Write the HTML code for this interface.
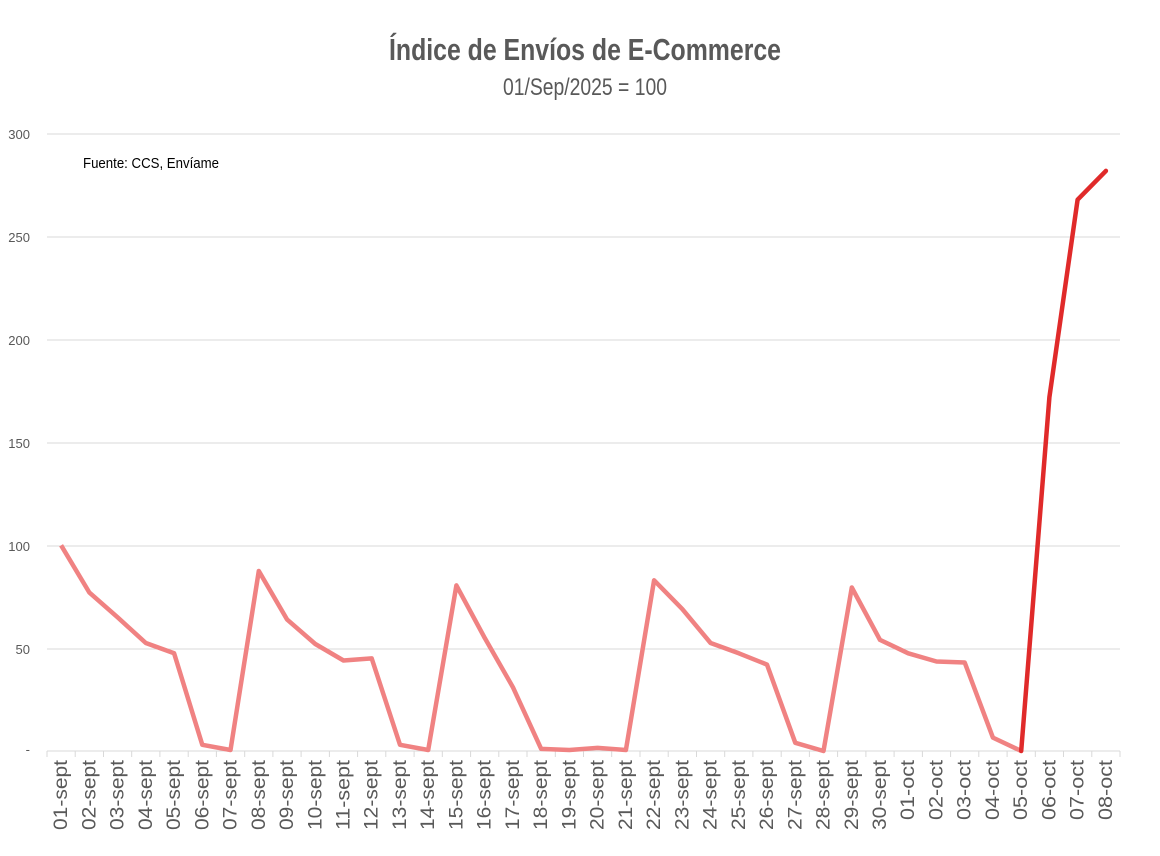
<!DOCTYPE html>
<html><head><meta charset="utf-8"><style>html,body{margin:0;padding:0;background:#fff}</style></head>
<body>
<svg width="1160" height="851" xmlns="http://www.w3.org/2000/svg" font-family="Liberation Sans, sans-serif">
<rect width="1160" height="851" fill="#fff"/>
<text x="585" y="60" text-anchor="middle" font-size="31" font-weight="bold" fill="#595959" textLength="392" lengthAdjust="spacingAndGlyphs">Índice de Envíos de E-Commerce</text>
<text x="585" y="95" text-anchor="middle" font-size="24" fill="#595959" textLength="164" lengthAdjust="spacingAndGlyphs">01/Sep/2025 = 100</text>
<g stroke="#d9d9d9" stroke-width="1">
<line x1="47" y1="134" x2="1120" y2="134"/><line x1="47" y1="237" x2="1120" y2="237"/><line x1="47" y1="340" x2="1120" y2="340"/><line x1="47" y1="443" x2="1120" y2="443"/><line x1="47" y1="546" x2="1120" y2="546"/><line x1="47" y1="649" x2="1120" y2="649"/>
<line x1="47" y1="751" x2="1120" y2="751"/>
<path d="M47 751v6M75.2 751v6M103.5 751v6M131.7 751v6M159.9 751v6M188.2 751v6M216.4 751v6M244.7 751v6M272.9 751v6M301.1 751v6M329.4 751v6M357.6 751v6M385.8 751v6M414.1 751v6M442.3 751v6M470.6 751v6M498.8 751v6M527 751v6M555.3 751v6M583.5 751v6M611.7 751v6M640 751v6M668.2 751v6M696.5 751v6M724.7 751v6M752.9 751v6M781.2 751v6M809.4 751v6M837.6 751v6M865.9 751v6M894.1 751v6M922.4 751v6M950.6 751v6M978.8 751v6M1007.1 751v6M1035.3 751v6M1063.5 751v6M1091.8 751v6M1120 751v6"/>
</g>
<g font-size="13" fill="#595959" text-anchor="end">
<text x="30" y="139">300</text><text x="30" y="242">250</text><text x="30" y="345">200</text><text x="30" y="448">150</text><text x="30" y="551">100</text><text x="30" y="654">50</text><text x="30" y="754">-</text>
</g>
<text x="83" y="168" font-size="15" fill="#000" textLength="136" lengthAdjust="spacingAndGlyphs">Fuente: CCS, Envíame</text>
<g font-size="19" fill="#595959" text-anchor="end">
<text transform="translate(67.1,760) rotate(-90)" textLength="70" lengthAdjust="spacingAndGlyphs">01-sept</text>
<text transform="translate(95.4,760) rotate(-90)" textLength="70" lengthAdjust="spacingAndGlyphs">02-sept</text>
<text transform="translate(123.6,760) rotate(-90)" textLength="70" lengthAdjust="spacingAndGlyphs">03-sept</text>
<text transform="translate(151.8,760) rotate(-90)" textLength="70" lengthAdjust="spacingAndGlyphs">04-sept</text>
<text transform="translate(180.1,760) rotate(-90)" textLength="70" lengthAdjust="spacingAndGlyphs">05-sept</text>
<text transform="translate(208.3,760) rotate(-90)" textLength="70" lengthAdjust="spacingAndGlyphs">06-sept</text>
<text transform="translate(236.5,760) rotate(-90)" textLength="70" lengthAdjust="spacingAndGlyphs">07-sept</text>
<text transform="translate(264.8,760) rotate(-90)" textLength="70" lengthAdjust="spacingAndGlyphs">08-sept</text>
<text transform="translate(293,760) rotate(-90)" textLength="70" lengthAdjust="spacingAndGlyphs">09-sept</text>
<text transform="translate(321.3,760) rotate(-90)" textLength="70" lengthAdjust="spacingAndGlyphs">10-sept</text>
<text transform="translate(349.5,760) rotate(-90)" textLength="70" lengthAdjust="spacingAndGlyphs">11-sept</text>
<text transform="translate(377.7,760) rotate(-90)" textLength="70" lengthAdjust="spacingAndGlyphs">12-sept</text>
<text transform="translate(406,760) rotate(-90)" textLength="70" lengthAdjust="spacingAndGlyphs">13-sept</text>
<text transform="translate(434.2,760) rotate(-90)" textLength="70" lengthAdjust="spacingAndGlyphs">14-sept</text>
<text transform="translate(462.4,760) rotate(-90)" textLength="70" lengthAdjust="spacingAndGlyphs">15-sept</text>
<text transform="translate(490.7,760) rotate(-90)" textLength="70" lengthAdjust="spacingAndGlyphs">16-sept</text>
<text transform="translate(518.9,760) rotate(-90)" textLength="70" lengthAdjust="spacingAndGlyphs">17-sept</text>
<text transform="translate(547.2,760) rotate(-90)" textLength="70" lengthAdjust="spacingAndGlyphs">18-sept</text>
<text transform="translate(575.4,760) rotate(-90)" textLength="70" lengthAdjust="spacingAndGlyphs">19-sept</text>
<text transform="translate(603.6,760) rotate(-90)" textLength="70" lengthAdjust="spacingAndGlyphs">20-sept</text>
<text transform="translate(631.9,760) rotate(-90)" textLength="70" lengthAdjust="spacingAndGlyphs">21-sept</text>
<text transform="translate(660.1,760) rotate(-90)" textLength="70" lengthAdjust="spacingAndGlyphs">22-sept</text>
<text transform="translate(688.3,760) rotate(-90)" textLength="70" lengthAdjust="spacingAndGlyphs">23-sept</text>
<text transform="translate(716.6,760) rotate(-90)" textLength="70" lengthAdjust="spacingAndGlyphs">24-sept</text>
<text transform="translate(744.8,760) rotate(-90)" textLength="70" lengthAdjust="spacingAndGlyphs">25-sept</text>
<text transform="translate(773,760) rotate(-90)" textLength="70" lengthAdjust="spacingAndGlyphs">26-sept</text>
<text transform="translate(801.3,760) rotate(-90)" textLength="70" lengthAdjust="spacingAndGlyphs">27-sept</text>
<text transform="translate(829.5,760) rotate(-90)" textLength="70" lengthAdjust="spacingAndGlyphs">28-sept</text>
<text transform="translate(857.8,760) rotate(-90)" textLength="70" lengthAdjust="spacingAndGlyphs">29-sept</text>
<text transform="translate(886,760) rotate(-90)" textLength="70" lengthAdjust="spacingAndGlyphs">30-sept</text>
<text transform="translate(914.2,760) rotate(-90)" textLength="60" lengthAdjust="spacingAndGlyphs">01-oct</text>
<text transform="translate(942.5,760) rotate(-90)" textLength="60" lengthAdjust="spacingAndGlyphs">02-oct</text>
<text transform="translate(970.7,760) rotate(-90)" textLength="60" lengthAdjust="spacingAndGlyphs">03-oct</text>
<text transform="translate(998.9,760) rotate(-90)" textLength="60" lengthAdjust="spacingAndGlyphs">04-oct</text>
<text transform="translate(1027.2,760) rotate(-90)" textLength="60" lengthAdjust="spacingAndGlyphs">05-oct</text>
<text transform="translate(1055.4,760) rotate(-90)" textLength="60" lengthAdjust="spacingAndGlyphs">06-oct</text>
<text transform="translate(1083.6,760) rotate(-90)" textLength="60" lengthAdjust="spacingAndGlyphs">07-oct</text>
<text transform="translate(1111.9,760) rotate(-90)" textLength="60" lengthAdjust="spacingAndGlyphs">08-oct</text>
</g>
<polyline fill="none" stroke="#f08282" stroke-width="4.5" stroke-linejoin="round" points="61.1,545.3 89.4,592.6 117.6,617.3 145.8,643 174.1,653.3 202.3,744.8 230.5,750 258.8,571 287,619.4 315.3,644 343.5,660.5 371.7,658.4 400,744.8 428.2,750 456.4,585.4 484.7,637.9 512.9,687.2 541.2,748.9 569.4,750 597.6,747.9 625.9,750 654.1,580.3 682.3,609.1 710.6,643 738.8,653.3 767,664.6 795.3,742.8 823.5,751 851.8,587.5 880,639.9 908.2,653.3 936.5,661.5 964.7,662.5 992.9,737.6 1021.2,751"/>
<polyline fill="none" stroke="#e02a2a" stroke-width="4.5" stroke-linejoin="round" stroke-linecap="round" points="1021.2,751 1049.4,397.2 1077.6,199.7 1105.9,170.9"/>
</svg>
</body></html>
